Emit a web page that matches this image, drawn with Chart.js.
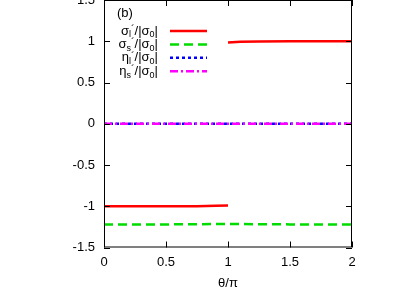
<!DOCTYPE html>
<html>
<head>
<meta charset="utf-8">
<script src="https://cdn.jsdelivr.net/npm/chart.js@4/dist/chart.umd.min.js"></script>
<style>
  html, body { margin: 0; padding: 0; background: #fff; overflow: hidden; }
  #wrap { position: absolute; left: 0; top: -20px; width: 416px; height: 311px; }
</style>
</head>
<body>
<div id="wrap"><canvas id="c" width="416" height="311"></canvas></div>
<script>
// theta / pi values and curves
const thetaLeft = [0, 0.25, 0.5, 0.75, 0.9, 1.0];
const sigmaLLeft = [-1, -1, -1, -1, -0.995, -0.99];
const thetaRight = [1.0, 1.1, 1.25, 1.5, 2.0];
const sigmaLRight = [0.985, 0.993, 0.998, 1, 1];
const thetaFull = [0, 0.5, 1.0, 1.5, 2.0];
const sigmaS = [-1.22, -1.22, -1.215, -1.22, -1.22];
const etaL = [0, 0, 0, 0, 0];
const etaS = [0, 0, 0, 0, 0];
const xTicks = [0, 0.5, 1, 1.5, 2];
const yTicks = [-1.5, -1, -0.5, 0, 0.5, 1, 1.5];

const font = "'Liberation Sans', Arial, sans-serif";

function pts(xs, ys) { return xs.map((x, i) => ({x: x, y: ys[i]})); }

// legend entries: [base, sub, color, dash]
const legendItems = [
  ['σ', 'l', 'rgb(255,0,0)', []],
  ['σ', 's', 'rgb(0,220,0)', [9, 5]],
  ['η', 'l', 'rgb(0,0,255)', [3, 3]],
  ['η', 's', 'rgb(255,0,255)', [8, 3, 2, 3]]
];

const framePlugin = {
  id: 'frame',
  afterDatasetsDraw(chart) {
    const ctx = chart.ctx;
    const a = chart.chartArea;
    const xs = chart.scales.x, ys = chart.scales.y;
    ctx.save();
    ctx.strokeStyle = '#000';
    ctx.lineWidth = 1;
    ctx.strokeRect(a.left + 0.5, a.top + 0.5, a.right - a.left - 1, a.bottom - a.top - 1);
    ctx.beginPath();
    xTicks.forEach(v => {
      const px = Math.round(xs.getPixelForValue(v)) + 0.5;
      ctx.moveTo(px, a.bottom); ctx.lineTo(px, a.bottom - 6);
      ctx.moveTo(px, a.top); ctx.lineTo(px, a.top + 6);
    });
    yTicks.forEach(v => {
      const py = Math.round(ys.getPixelForValue(v)) + 0.5;
      ctx.moveTo(a.left, py); ctx.lineTo(a.left + 6, py);
      ctx.moveTo(a.right, py); ctx.lineTo(a.right - 6, py);
    });
    ctx.stroke();

    // (b) label
    ctx.fillStyle = '#000';
    ctx.font = '13px ' + font;
    ctx.textBaseline = 'middle';
    ctx.textAlign = 'left';
    ctx.fillText('(b)', a.left + 13, a.top + 13);

    // legend
    legendItems.forEach((it, i) => {
      const y = a.top + 31 + i * 13.4;
      const right = a.left + 54;
      ctx.font = '13px ' + font;
      const wBase = ctx.measureText(it[0]).width;
      const wMid = ctx.measureText('/|σ').width;
      const wEnd = ctx.measureText('|').width;
      ctx.font = '9px ' + font;
      const wSub = ctx.measureText(it[1]).width;
      const wSub0 = ctx.measureText('0').width;
      ctx.font = '11px ' + font;
      const wPrime = ctx.measureText('´').width;
      const total = wBase + wSub + wPrime + wMid + wSub0 + wEnd;
      let x = right - total;
      ctx.textAlign = 'left';
      ctx.textBaseline = 'middle';
      ctx.font = '13px ' + font;
      ctx.fillText(it[0], x, y); x += wBase;
      ctx.font = '9px ' + font;
      ctx.fillText(it[1], x, y + 4); x += wSub;
      ctx.font = '11px ' + font;
      ctx.fillText('´', x, y - 1); x += wPrime;
      ctx.font = '13px ' + font;
      ctx.fillText('/|σ', x, y); x += wMid;
      ctx.font = '9px ' + font;
      ctx.fillText('0', x, y + 4); x += wSub0;
      ctx.font = '13px ' + font;
      ctx.fillText('|', x, y);
      // sample line
      ctx.strokeStyle = it[2];
      ctx.lineWidth = 2.5;
      ctx.setLineDash(it[3]);
      ctx.beginPath();
      ctx.moveTo(a.left + 66, y);
      ctx.lineTo(a.left + 103, y);
      ctx.stroke();
      ctx.setLineDash([]);
    });
    ctx.restore();
  }
};

const ctx = document.getElementById('c').getContext('2d');
new Chart(ctx, {
  type: 'line',
  data: {
    datasets: [
      { data: pts(thetaLeft, sigmaLLeft), borderColor: 'rgb(255,0,0)', borderWidth: 2.5, order: 4 },
      { data: pts(thetaRight, sigmaLRight), borderColor: 'rgb(255,0,0)', borderWidth: 2.5, order: 4 },
      { data: pts(thetaFull, sigmaS), borderColor: 'rgb(0,220,0)', borderWidth: 2.5, borderDash: [9, 5], order: 3 },
      { data: pts(thetaFull, etaL), borderColor: 'rgb(0,0,255)', borderWidth: 2.5, borderDash: [3, 3], order: 2 },
      { data: pts(thetaFull, etaS), borderColor: 'rgb(255,0,255)', borderWidth: 2.5, borderDash: [8, 3, 2, 3], order: 1 }
    ]
  },
  options: {
    responsive: false,
    animation: false,
    layout: { padding: { top: 20, right: 64, left: 0, bottom: 0 } },
    elements: { point: { radius: 0 }, line: { tension: 0, fill: false } },
    plugins: { legend: { display: false }, tooltip: { enabled: false } },
    scales: {
      x: {
        type: 'linear', min: 0, max: 2,
        afterBuildTicks: s => { s.ticks = xTicks.map(v => ({value: v})); },
        afterFit: s => { s.height = 43.5; },
        grid: { display: false, drawTicks: false },
        border: { display: false },
        ticks: { color: '#000', padding: 7, font: { family: font, size: 13 }, callback: v => String(v), maxRotation: 0 },
        title: { display: true, text: 'θ/π', color: '#000', font: { family: font, size: 13 }, padding: { top: 2, bottom: 0 } }
      },
      y: {
        type: 'linear', min: -1.5, max: 1.5,
        afterBuildTicks: s => { s.ticks = yTicks.map(v => ({value: v})); },
        afterFit: s => { s.width = 104; },
        grid: { display: false, drawTicks: false },
        border: { display: false },
        ticks: { color: '#000', padding: 9, font: { family: font, size: 13 }, callback: v => String(v) }
      }
    }
  },
  plugins: [framePlugin]
});
</script>
</body>
</html>
